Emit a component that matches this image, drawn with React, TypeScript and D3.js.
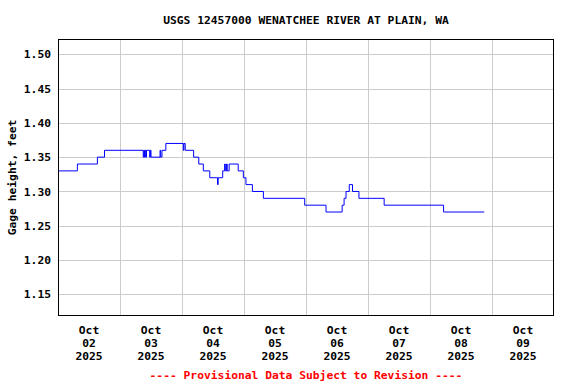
import React from "react";
import * as d3 from "d3";

// gage height readings, step changes (15-min data, only change points kept)
const stepTimes = [
  "2025-10-02 00:00", "2025-10-02 07:30", "2025-10-02 15:15", "2025-10-02 18:00",
  "2025-10-03 09:00", "2025-10-03 09:15", "2025-10-03 09:30", "2025-10-03 09:45",
  "2025-10-03 10:00", "2025-10-03 10:15", "2025-10-03 11:30", "2025-10-03 11:45",
  "2025-10-03 12:00", "2025-10-03 15:30", "2025-10-03 15:45", "2025-10-03 16:15",
  "2025-10-03 17:45", "2025-10-04 00:30", "2025-10-04 00:45", "2025-10-04 01:15",
  "2025-10-04 04:30", "2025-10-04 06:30", "2025-10-04 08:15", "2025-10-04 10:45",
  "2025-10-04 13:45", "2025-10-04 14:00", "2025-10-04 15:45", "2025-10-04 16:30",
  "2025-10-04 16:45", "2025-10-04 17:15", "2025-10-04 17:30", "2025-10-04 18:15",
  "2025-10-04 21:45", "2025-10-04 23:45", "2025-10-05 00:45", "2025-10-05 03:15",
  "2025-10-05 07:30", "2025-10-05 23:30", "2025-10-06 07:45", "2025-10-06 14:00",
  "2025-10-06 14:45", "2025-10-06 15:30", "2025-10-06 16:45", "2025-10-06 18:00",
  "2025-10-06 20:30", "2025-10-07 06:15", "2025-10-08 05:15", "2025-10-08 21:00",
];
const gageHeights = [
  1.33, 1.34, 1.35, 1.36,
  1.35, 1.36, 1.35, 1.36,
  1.35, 1.36, 1.35, 1.36,
  1.35, 1.36, 1.35, 1.36,
  1.37, 1.36, 1.37, 1.36,
  1.35, 1.34, 1.33, 1.32,
  1.31, 1.32, 1.33, 1.34,
  1.33, 1.34, 1.33, 1.34,
  1.33, 1.32, 1.31, 1.30,
  1.29, 1.28, 1.27, 1.28,
  1.29, 1.30, 1.31, 1.30,
  1.29, 1.28, 1.27, 1.27,
];
const yTicks = [1.15, 1.2, 1.25, 1.3, 1.35, 1.4, 1.45, 1.5];
const dayLabels = ["02", "03", "04", "05", "06", "07", "08", "09"];

const title = "USGS 12457000 WENATCHEE RIVER AT PLAIN, WA";
const yTitle = "Gage height, feet";
const footer = "---- Provisional Data Subject to Revision ----";

const width = 576;
const height = 384;
const margin = { top: 39, left: 58, bottom: 68, right: 22 };
const font = "'DejaVu Sans Mono', 'Liberation Mono', monospace";

const parse = d3.timeParse("%Y-%m-%d %H:%M");

const App = () => {
  const data = stepTimes.map((t, i) => ({ t: parse(t) as Date, v: gageHeights[i] }));

  const x = d3
    .scaleTime()
    .domain([parse("2025-10-02 00:00") as Date, parse("2025-10-10 00:00") as Date])
    .range([margin.left, width - margin.right - 0]);

  const y = d3
    .scaleLinear()
    .domain([1.1184, 1.5223])
    .range([height - margin.bottom, margin.top]);

  const line = d3
    .line<{ t: Date; v: number }>()
    .x((d) => x(d.t))
    .y((d) => y(d.v))
    .curve(d3.curveStepAfter);

  const days = d3.timeDay.range(x.domain()[0], x.domain()[1]);
  const gridDays = days.slice(1);
  const crisp = (v: number) => Math.round(v) + 0.5;

  const left = margin.left;
  const right = width - margin.right;
  const top = margin.top;
  const bottom = height - margin.bottom;

  return (
    <svg
      width={width}
      height={height}
      style={{ position: "absolute", left: 0, top: 0, background: "#fff" }}
      fontFamily={font}
      fontWeight="bold"
    >
      <rect width={width} height={height} fill="#fff" />
      <text x={(left + right) / 2} y={24} textAnchor="middle" fontSize={11.3}>
        {title}
      </text>

      {/* grid */}
      <g stroke="#cccccc" strokeWidth={1}>
        {yTicks.map((t) => (
          <line key={t} x1={left} x2={right} y1={crisp(y(t))} y2={crisp(y(t))} />
        ))}
        {gridDays.map((d) => (
          <line key={+d} x1={crisp(x(d))} x2={crisp(x(d))} y1={top} y2={bottom} />
        ))}
      </g>

      {/* y tick labels */}
      <g fontSize={11.3} textAnchor="end">
        {yTicks.map((t) => (
          <text key={t} x={51} y={y(t)} dy="0.36em">
            {t.toFixed(2)}
          </text>
        ))}
      </g>
      <text
        transform={`translate(16, ${(top + bottom) / 2}) rotate(-90)`}
        textAnchor="middle"
        fontSize={11.3}
      >
        {yTitle}
      </text>

      {/* x labels at noon of each day */}
      <g fontSize={11.3} textAnchor="middle">
        {days.map((d, i) => {
          const cx = x(d3.timeHour.offset(d, 12));
          return (
            <g key={+d}>
              <text x={cx} y={334}>Oct</text>
              <text x={cx} y={347}>{dayLabels[i]}</text>
              <text x={cx} y={360}>2025</text>
            </g>
          );
        })}
      </g>

      <path d={line(data) ?? ""} fill="none" stroke="#0000ff" strokeWidth={1} />

      <rect
        x={left + 0.5}
        y={top + 0.5}
        width={right - left - 1}
        height={bottom - top - 1}
        fill="none"
        stroke="#000"
        strokeWidth={1}
      />

      <text x={(left + right) / 2} y={379} textAnchor="middle" fontSize={11.3} fill="#ff0000">
        {footer}
      </text>
    </svg>
  );
};

export default App;
